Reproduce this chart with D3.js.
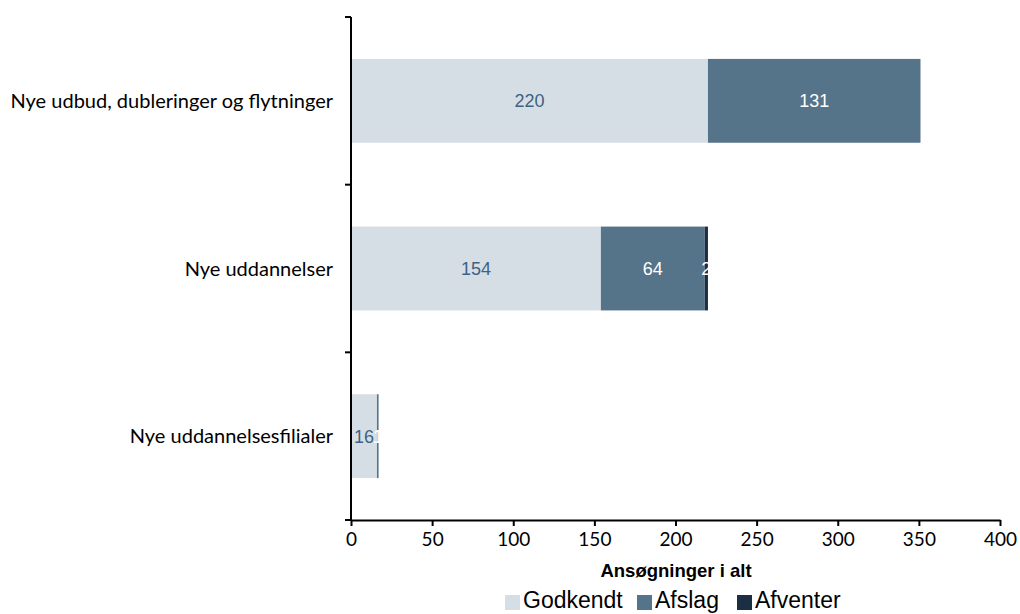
<!DOCTYPE html>
<html><head><meta charset="utf-8">
<script src="https://cdn.jsdelivr.net/npm/d3@7"></script>
<style>body{margin:0;background:#fff;} text{font-family:"Liberation Sans",Arial,sans-serif;}</style>
</head><body>
<svg id="c" width="1020" height="614"></svg>
<script>
const categories = ["Nye udbud, dubleringer og flytninger", "Nye uddannelser", "Nye uddannelsesfilialer"];
const seriesNames = ["Godkendt", "Afslag", "Afventer"];
const godkendt = [220, 154, 16];
const afslag = [131, 64, 1];
const afventer = [0, 2, 0];
const xTicks = [0, 50, 100, 150, 200, 250, 300, 350, 400];
const colors = ["#d6dee5", "#557389", "#1b2e44"];
const labelColors = ["#3e6283", "#ffffff", "#ffffff"];
const calibriLike = "Lato, 'Open Sans', sans-serif";

const svg = d3.select("#c");
const x = d3.scaleLinear().domain([0, 400]).range([351, 1000]);
const y = d3.scaleBand().domain(categories).range([17, 520]).paddingInner(0.5).paddingOuter(0.25);

const rows = categories.map((c, i) => ({cat: c, Godkendt: godkendt[i], Afslag: afslag[i], Afventer: afventer[i]}));
const stack = d3.stack().keys(seriesNames)(rows);

stack.forEach((s, si) => {
  const g = svg.append("g");
  g.selectAll("rect").data(s).join("rect")
    .attr("x", d => x(d[0]))
    .attr("y", d => y(d.data.cat))
    .attr("width", d => x(d[1]) - x(d[0]))
    .attr("height", y.bandwidth())
    .attr("fill", colors[si]);
  g.selectAll("text").data(s.filter(d => d[1] - d[0] > 0)).join("text")
    .attr("x", d => (x(d[0]) + x(d[1])) / 2)
    .attr("y", d => y(d.data.cat) + y.bandwidth() / 2 + 6.5)
    .attr("text-anchor", "middle")
    .attr("font-size", 18)
    .attr("fill", labelColors[si])
    .text(d => d[1] - d[0]);
});

// y axis
const yAxisG = svg.append("g");
yAxisG.append("line").attr("x1", 351).attr("x2", 351).attr("y1", 17).attr("y2", 520).attr("stroke", "#000").attr("stroke-width", 2);
const bounds = [0, 1, 2, 3].map(i => 17 + i * (520 - 17) / 3);
bounds.forEach(b => yAxisG.append("line").attr("x1", 345).attr("x2", 351).attr("y1", b).attr("y2", b).attr("stroke", "#000").attr("stroke-width", 2));
categories.forEach(c => {
  yAxisG.append("text").attr("x", 333).attr("y", y(c) + y.bandwidth() / 2 + 7)
    .attr("text-anchor", "end").attr("font-size", 20).attr("fill", "#000")
    .style("font-family", calibriLike).text(c);
});

// x axis
const xa = svg.append("g").attr("transform", "translate(0,520)")
  .call(d3.axisBottom(x).tickValues(xTicks).tickSize(6).tickPadding(7).tickSizeOuter(0));
xa.select(".domain").attr("stroke", "#000").attr("stroke-width", 2);
xa.selectAll(".tick line").attr("stroke", "#000").attr("stroke-width", 2);
xa.selectAll(".tick text").attr("font-size", 19).attr("fill", "#000").style("font-family", calibriLike);

svg.append("text").attr("x", 676).attr("y", 577).attr("text-anchor", "middle")
  .attr("font-size", 18.5).attr("font-weight", "bold").attr("fill", "#000").text("Ansøgninger i alt");

// legend
const legend = svg.append("g");
const legendX = [505, 637, 737];
seriesNames.forEach((n, i) => {
  legend.append("rect").attr("x", legendX[i]).attr("y", 595).attr("width", 15).attr("height", 15).attr("fill", colors[i]);
  legend.append("text").attr("x", legendX[i] + 18).attr("y", 608).attr("font-size", 23).attr("fill", "#000").text(n);
});
</script>
</body></html>
